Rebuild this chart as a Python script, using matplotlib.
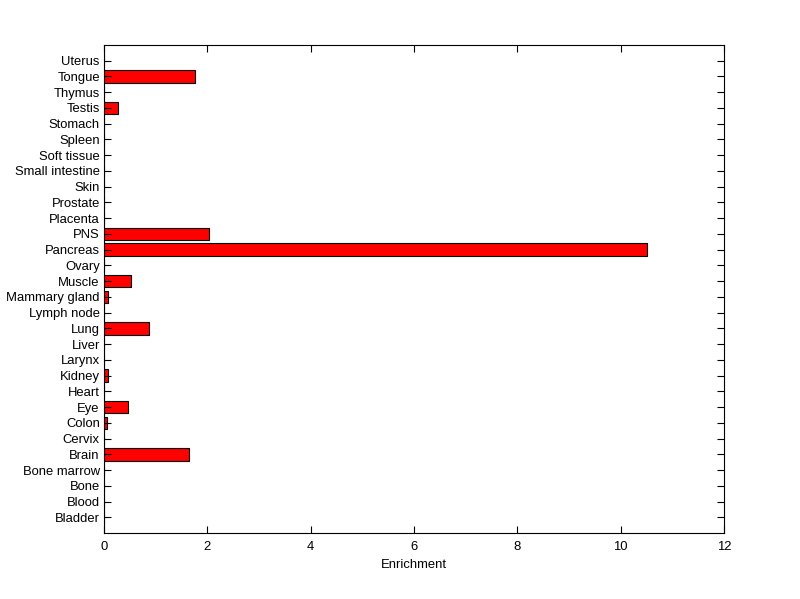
import matplotlib
matplotlib.use("Agg")
import matplotlib.pyplot as plt
import numpy as np

categories = ["Bladder", "Blood", "Bone", "Bone marrow", "Brain", "Cervix", "Colon", "Eye",
              "Heart", "Kidney", "Larynx", "Liver", "Lung", "Lymph node", "Mammary gland",
              "Muscle", "Ovary", "Pancreas", "PNS", "Placenta", "Prostate", "Skin",
              "Small intestine", "Soft tissue", "Spleen", "Stomach", "Testis", "Thymus",
              "Tongue", "Uterus"]
values = [0, 0, 0, 0, 1.64, 0, 0.06, 0.46,
          0, 0.08, 0, 0, 0.88, 0, 0.08,
          0.52, 0, 10.50, 2.04, 0, 0, 0,
          0, 0, 0, 0, 0.28, 0,
          1.77, 0]
xticks = [0, 2, 4, 6, 8, 10, 12]

plt.rcParams['font.family'] = ['Liberation Sans', 'DejaVu Sans']
fig = plt.figure(figsize=(8, 5.99), dpi=100)
ax = fig.add_axes([0.13, 0.110, 0.775, 0.815])
pos = np.arange(1, len(categories) + 1)
ax.barh(pos, values, height=0.8, color='#ff0000', edgecolor='black', linewidth=0.8)
ax.set_ylim(0, 31)
ax.set_xlim(0, 12)
ax.set_yticks(pos)
ax.set_yticklabels(categories, fontsize=9.4)
ax.set_xticks(xticks)
ax.set_xticklabels([str(t) for t in xticks], fontsize=9.4)
ax.set_xlabel("Enrichment", fontsize=9.4, labelpad=4)
ax.tick_params(axis='y', direction='in', length=5, width=0.8, right=True, pad=3, colors='black')
ax.tick_params(axis='x', direction='in', length=5, width=0.8, top=True, pad=6, colors='black')
for s in ax.spines.values():
    s.set_linewidth(0.8)
fig.savefig("out.png", dpi=100, facecolor='white')
